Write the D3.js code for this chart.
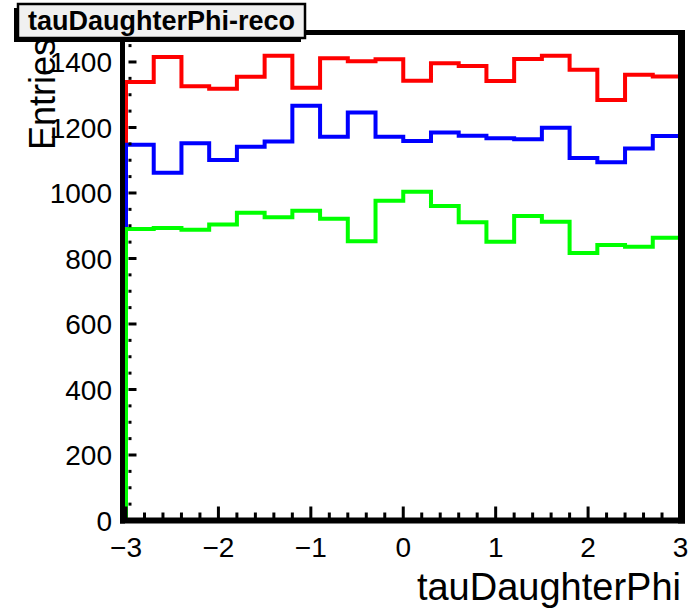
<!DOCTYPE html>
<html>
<head>
<meta charset="utf-8">
<script src="https://cdn.jsdelivr.net/npm/d3@7"></script>
<style>
  body { margin: 0; background: #fff; }
  svg { display: block; }
  text { font-family: "Liberation Sans", Arial, Helvetica, sans-serif; fill: #000; }
</style>
</head>
<body>
<svg id="chart" width="689" height="613"></svg>
<script>
// 20 bins of width 0.3 over [-3, 3]
const binEdges = [-3, -2.7, -2.4, -2.1, -1.8, -1.5, -1.2, -0.9, -0.6, -0.3, 0,
                  0.3, 0.6, 0.9, 1.2, 1.5, 1.8, 2.1, 2.4, 2.7, 3];

const redCounts   = [1339, 1415, 1326, 1318, 1355, 1419, 1321, 1411, 1402, 1408,
                     1343, 1396, 1388, 1342, 1409, 1419, 1376, 1284, 1361, 1356];
const blueCounts  = [1147, 1062, 1152, 1101, 1141, 1157, 1266, 1172, 1246, 1172,
                     1159, 1185, 1175, 1167, 1164, 1199, 1107, 1094, 1136, 1174];
const greenCounts = [890, 893, 888, 904, 940, 926, 946, 921, 853, 976,
                     1004, 960, 911, 851, 930, 912, 817, 841, 836, 863];

const seriesNames  = ["red", "blue", "green"];
const seriesColors = ["#ff0000", "#0000ff", "#00ff00"];

const xTicks      = [-3, -2, -1, 0, 1, 2, 3];
const xMinorTicks = d3.range(-30, 31, 2).map(d => d / 10);
const yTicks      = [0, 200, 400, 600, 800, 1000, 1200, 1400];
const yMinorTicks = d3.range(0, 1490, 50);

const titleText  = "tauDaughterPhi-reco";
const xAxisTitle = "tauDaughterPhi";
const yAxisTitle = "Entries";

const svg = d3.select("#chart");
const W = 689, H = 613;

const x = d3.scaleLinear().domain([-3, 3]).range([126, 680.5]);
const y = d3.scaleLinear().domain([0, 1490]).range([520.5, 32.5]);

const frame = { left: 122.5, right: 681.5, top: 32.5, bottom: 520.5 };

svg.append("rect").attr("width", W).attr("height", H).attr("fill", "#fff");

// step outline of a histogram, starting and ending on the baseline
function stepPoints(counts) {
  const pts = [[binEdges[0], 0]];
  counts.forEach((v, i) => {
    pts.push([binEdges[i], v]);
    pts.push([binEdges[i + 1], v]);
  });
  pts.push([binEdges[binEdges.length - 1], 0]);
  return pts;
}

const line = d3.line().x(d => x(d[0])).y(d => y(d[1]));
const series = [redCounts, blueCounts, greenCounts];

const histG = svg.append("g").attr("class", "histograms");
series.forEach((counts, i) => {
  histG.append("path")
    .attr("class", "hist " + seriesNames[i])
    .attr("d", line(stepPoints(counts)))
    .attr("fill", "none")
    .attr("stroke", seriesColors[i])
    .attr("stroke-width", 4)
    .attr("stroke-linejoin", "miter");
});

// tick marks pointing into the frame
const tickG = svg.append("g").attr("class", "ticks").attr("stroke", "#000").attr("stroke-width", 3);
xMinorTicks.forEach(t => {
  const major = xTicks.some(m => Math.abs(m - t) < 1e-9);
  tickG.append("line")
    .attr("x1", x(t)).attr("x2", x(t))
    .attr("y1", frame.bottom).attr("y2", frame.bottom - (major ? 14 : 8));
});
yMinorTicks.forEach(t => {
  const major = t % 200 === 0;
  tickG.append("line")
    .attr("x1", 128.5).attr("x2", major ? 136.5 : 131.5)
    .attr("y1", y(t)).attr("y2", y(t));
});

// frame border
const fG = svg.append("g").attr("class", "frame").attr("stroke", "#000");
fG.append("line").attr("x1", frame.left).attr("x2", frame.left)
  .attr("y1", frame.top - 2.5).attr("y2", frame.bottom + 3).attr("stroke-width", 5);
fG.append("line").attr("x1", frame.right).attr("x2", frame.right)
  .attr("y1", frame.top - 2.5).attr("y2", frame.bottom + 3).attr("stroke-width", 7);
fG.append("line").attr("x1", frame.left - 2.5).attr("x2", frame.right + 3.5)
  .attr("y1", frame.top).attr("y2", frame.top).attr("stroke-width", 5);
fG.append("line").attr("x1", frame.left - 2.5).attr("x2", frame.right + 3.5)
  .attr("y1", frame.bottom).attr("y2", frame.bottom).attr("stroke-width", 6);

// tick labels
const labelSize = 28;
svg.append("g").selectAll("text").data(xTicks).join("text")
  .attr("x", d => x(d))
  .attr("y", 557)
  .attr("text-anchor", "middle")
  .attr("font-size", labelSize)
  .text(d => d < 0 ? "\u2212" + Math.abs(d) : String(d));

// axis title drawn before the y labels so the labels sit over it
svg.append("text")
  .attr("transform", "translate(55,38) rotate(-90)")
  .attr("text-anchor", "end")
  .attr("font-size", 36)
  .text(yAxisTitle);

svg.append("g").selectAll("text").data(yTicks).join("text")
  .attr("x", 112)
  .attr("y", d => y(d))
  .attr("dy", "0.36em")
  .attr("text-anchor", "end")
  .attr("font-size", labelSize)
  .text(d => String(d));

svg.append("text")
  .attr("x", 681).attr("y", 600)
  .attr("text-anchor", "end")
  .attr("font-size", 38)
  .text(xAxisTitle);

// title box with drop shadow
const box = { x: 18, y: 4, w: 287, h: 34 };
svg.append("rect")
  .attr("x", box.x - 4).attr("y", box.y + 4)
  .attr("width", box.w).attr("height", box.h)
  .attr("fill", "#000");
svg.append("rect")
  .attr("x", box.x).attr("y", box.y)
  .attr("width", box.w).attr("height", box.h)
  .attr("fill", "#f0f0f0")
  .attr("stroke", "#000").attr("stroke-width", 2.5);
svg.append("text")
  .attr("x", box.x + box.w / 2).attr("y", 30)
  .attr("text-anchor", "middle")
  .attr("font-size", 27)
  .attr("font-weight", "bold")
  .text(titleText);
</script>
</body>
</html>
